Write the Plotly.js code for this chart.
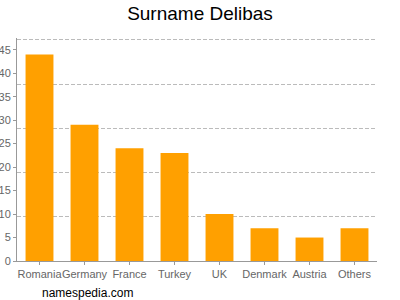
<!DOCTYPE html>
<html><head><meta charset="utf-8">
<script src="https://cdn.plot.ly/plotly-3.0.1.min.js"></script>
<style>html,body{margin:0;padding:0;background:#fff}#c{width:400px;height:300px}</style>
</head><body><div id="c"></div>
<script>
const categories = ["Romania","Germany","France","Turkey","UK","Denmark","Austria","Others"];
const counts = [44, 29, 24, 23, 10, 7, 5, 7];
const gridStep = 9.42;
const yTop = 47.5;

const data = [
  {type:"bar", x:categories, y:counts, marker:{color:"#FFA000"}, hoverinfo:"none"},
  {type:"scatter", x:categories, y:counts, yaxis:"y2", mode:"none", hoverinfo:"none", showlegend:false}
];
const layout = {
  width:400, height:300,
  margin:{l:17, r:23, t:38, b:39},
  paper_bgcolor:"#fff", plot_bgcolor:"#fff",
  showlegend:false,
  bargap:0.38,
  title:{text:"Surname Delibas", font:{family:"Liberation Sans, Arial", size:19, color:"#000"}, x:0.5, xanchor:"center", y:0.955, yanchor:"middle"},
  xaxis:{showline:true, linecolor:"#999", linewidth:1, ticks:"outside", ticklen:3, tickcolor:"#999", tickangle:0,
         tickfont:{family:"Liberation Sans, Arial", size:11, color:"#666"}, showgrid:false, fixedrange:true},
  yaxis:{range:[0,yTop], dtick:5, tick0:0, showline:true, linecolor:"#999", linewidth:1, ticks:"outside", ticklen:3, tickcolor:"#999",
         tickfont:{family:"Liberation Sans, Arial", size:11, color:"#666"}, showgrid:false, zeroline:false, fixedrange:true},
  yaxis2:{overlaying:"y", range:[0,yTop], tick0:0, dtick:gridStep, showticklabels:false, ticks:"",
          showgrid:true, gridcolor:"#bbb", griddash:"4px,2px", gridwidth:1, zeroline:false, showline:false, fixedrange:true},
  annotations:[{text:"namespedia.com", xref:"paper", yref:"paper", x:0.064, y:-0.105, xanchor:"left", yanchor:"top",
                showarrow:false, font:{family:"Liberation Sans, Arial", size:12, color:"#000"}}]
};
Plotly.newPlot("c", data, layout, {staticPlot:true, displayModeBar:false});
</script></body></html>
